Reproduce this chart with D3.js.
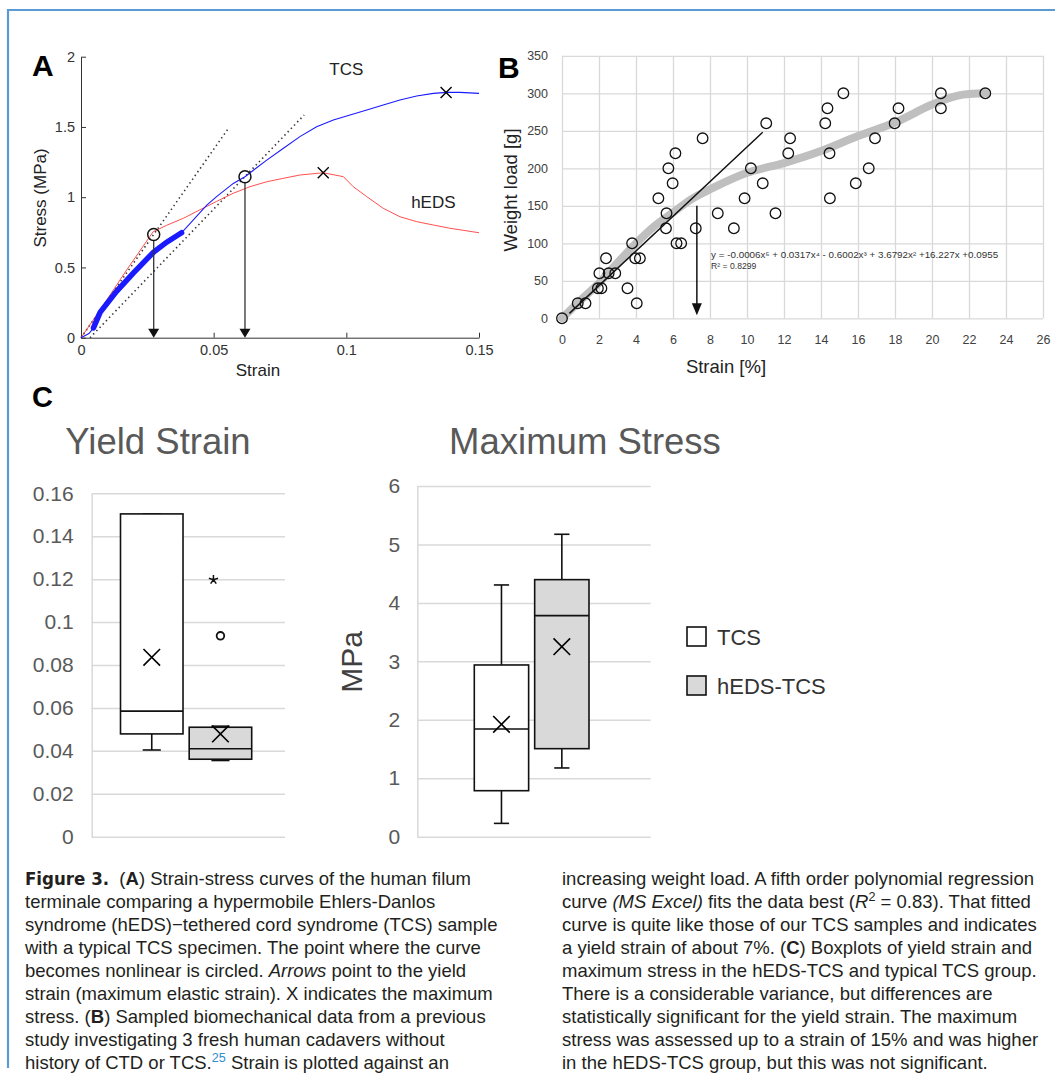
<!DOCTYPE html>
<html>
<head>
<meta charset="utf-8">
<script src="https://cdn.jsdelivr.net/npm/d3@7"></script>
<style>
  body { margin: 0; background: #fff; }
  svg { display: block; font-family: "Liberation Sans", Arial, sans-serif; }
</style>
</head>
<body>
<svg id="fig" width="1055" height="1076"></svg>
<script>
// ---- Panel A: strain-stress curves ----
const aXTicks = [0, 0.05, 0.1, 0.15];
const aYTicks = [0, 0.5, 1, 1.5, 2];
const tcsStrain = [0, 0.003, 0.0047, 0.0072, 0.0134, 0.0197, 0.0274, 0.0323, 0.0379, 0.0474, 0.0511, 0.0574, 0.0618, 0.070, 0.0763, 0.0825, 0.0888, 0.0951, 0.1014, 0.1077, 0.1139, 0.1202, 0.1265, 0.1328, 0.1378, 0.1428, 0.15];
const tcsStress = [0, 0.03, 0.07, 0.18, 0.33, 0.46, 0.61, 0.68, 0.747, 0.944, 1.004, 1.098, 1.146, 1.264, 1.348, 1.431, 1.502, 1.549, 1.585, 1.62, 1.656, 1.692, 1.72, 1.739, 1.746, 1.746, 1.739];
const hedsStrain = [0, 0.0072, 0.0172, 0.0272, 0.0323, 0.0386, 0.0448, 0.0511, 0.0574, 0.0637, 0.070, 0.0762, 0.0825, 0.0913, 0.0989, 0.1026, 0.1077, 0.1139, 0.1202, 0.1265, 0.1328, 0.139, 0.15];
const hedsStress = [0, 0.197, 0.482, 0.754, 0.80, 0.85, 0.91, 0.97, 1.028, 1.075, 1.11, 1.134, 1.158, 1.174, 1.146, 1.075, 1.004, 0.921, 0.861, 0.826, 0.802, 0.779, 0.747];
const bandRange = [0.0047, 0.0379];          // dense part of TCS record
const yieldStrainA = [0.0274, 0.0618];        // circled points / arrows
const yieldStressA = [0.735, 1.146];
const maxStrainA = [0.1376, 0.0913];          // X markers
const maxStressA = [1.746, 1.174];
const tangentFrom = [[0, 0], [0.0034, 0]];
const tangentTo = [[0.0553, 1.483], [0.0841, 1.585]];

// ---- Panel B: sampled data ----
const bXTicks = d3.range(0, 27, 2);
const bYTicks = d3.range(0, 351, 50);
const bStrain = [0, 0.85, 1.27, 1.94, 2.13, 2.02, 2.52, 2.88, 2.38, 3.54, 3.79, 4.04, 3.96, 4.21, 5.21, 5.62, 5.65, 5.75, 5.98, 6.13, 6.19, 6.44, 7.23, 7.6, 8.42, 9.29, 9.87, 10.21, 10.85, 11.04, 11.54, 12.23, 12.33, 14.23, 14.35, 14.46, 14.48, 15.21, 15.88, 16.58, 16.92, 17.98, 18.19, 20.48, 20.48, 22.88];
const bLoad = [0, 20, 20, 40, 40, 60, 60, 60, 80, 40, 100, 20, 80, 80, 160, 120, 140, 200, 180, 220, 100, 100, 120, 240, 140, 120, 160, 200, 180, 260, 140, 220, 240, 260, 280, 220, 160, 300, 180, 200, 240, 260, 280, 300, 280, 300];
const fitStrain = [0, 1, 2, 3, 4, 5, 6, 7, 8, 10, 12, 14, 16, 18, 20, 21.4, 22.9];
const fitLoad = [0, 24, 47, 74, 100, 123, 141, 159, 172, 194, 207, 223, 243, 261, 285, 297, 300];
const linStrain = [0.4, 10.85];
const linLoad = [6.6, 248];
const arrowStrainB = 7.29;
const arrowLoadB = [150, 4];
const fitEquation = "y = -0.0006x\u2075 + 0.0317x\u2074 - 0.6002x\u00b3 + 3.6792x\u00b2 +16.227x +0.0955";
const fitR2 = "R\u00b2 = 0.8299";

// ---- Panel C: boxplots ----
const groups = ["TCS", "hEDS-TCS"];
const groupFill = ["#ffffff", "#d9d9d9"];
const yieldMin = [0.0404, 0.0355];
const yieldQ1 = [0.0479, 0.0361];
const yieldMedian = [0.0585, 0.041];
const yieldQ3 = [0.1504, 0.051];
const yieldMax = [0.1504, 0.0515];
const yieldMean = [0.0836, 0.0479];
const yieldOutliers = [[], [{v: 0.1197, kind: "star"}, {v: 0.0936, kind: "circle"}]];
const yieldTicks = d3.range(0, 0.161, 0.02);
const stressMin = [0.228, 1.176];
const stressQ1 = [0.787, 1.506];
const stressMedian = [1.843, 3.782];
const stressQ3 = [2.938, 4.398];
const stressMax = [4.307, 5.174];
const stressMean = [1.923, 3.251];
const stressTicks = d3.range(0, 7, 1);

// ---- Caption ----
const captionLeft = [
  [["Figure 3.", "fig"], "\u00a0 (", ["A", "b"], ") Strain-stress curves of the human filum"],
  ["terminale comparing a hypermobile Ehlers-Danlos"],
  ["syndrome (hEDS)\u2212tethered cord syndrome (TCS) sample"],
  ["with a typical TCS specimen. The point where the curve"],
  ["becomes nonlinear is circled. ", ["Arrows", "i"], " point to the yield"],
  ["strain (maximum elastic strain). X indicates the maximum"],
  ["stress. (", ["B", "b"], ") Sampled biomechanical data from a previous"],
  ["study investigating 3 fresh human cadavers without"],
  ["history of CTD or TCS.", ["25", "ref"], " Strain is plotted against an"]
];
const captionRight = [
  ["increasing weight load. A fifth order polynomial regression"],
  ["curve ", ["(MS Excel)", "i"], " fits the data best (", ["R", "i"], ["2", "sup"], " = 0.83). That fitted"],
  ["curve is quite like those of our TCS samples and indicates"],
  ["a yield strain of about 7%. (", ["C", "b"], ") Boxplots of yield strain and"],
  ["maximum stress in the hEDS-TCS and typical TCS group."],
  ["There is a considerable variance, but differences are"],
  ["statistically significant for the yield strain. The maximum"],
  ["stress was assessed up to a strain of 15% and was higher"],
  ["in the hEDS-TCS group, but this was not significant."]
];

const svg = d3.select("#fig");
svg.append("rect").attr("width", 1055).attr("height", 1076).attr("fill", "#fff");

// page frame (blue rule top + left)
svg.append("path").attr("d", "M8,1068V10H1055").attr("fill", "none")
  .attr("stroke", "#5b9bd5").attr("stroke-width", 2.2);

function styleAxis(g, size, color) {
  g.attr("font-family", null).attr("font-size", size);
  g.selectAll("text").attr("fill", color);
  g.selectAll("line,path").attr("stroke", color);
}
function xMark(g, cx, cy, h, w) {
  g.append("path").attr("d", `M${cx - h},${cy - h}L${cx + h},${cy + h}M${cx - h},${cy + h}L${cx + h},${cy - h}`)
    .attr("stroke", "#000").attr("stroke-width", w).attr("fill", "none");
}

// ================= Panel A =================
const xA = d3.scaleLinear().domain([0, 0.15]).range([81, 479]);
const yA = d3.scaleLinear().domain([0, 2]).range([337.7, 56.7]);
const gA = svg.append("g");

gA.append("g").attr("transform", `translate(0,${yA(0)})`)
  .call(d3.axisBottom(xA).tickValues(aXTicks).tickSize(-5).tickSizeOuter(0).tickPadding(7).tickFormat(d => String(d)))
  .call(g => styleAxis(g, 14.5, "#333"));
gA.append("g").attr("transform", `translate(${xA(0)},0)`)
  .call(d3.axisLeft(yA).tickValues(aYTicks).tickSize(-5).tickSizeOuter(0).tickPadding(6).tickFormat(d => String(d)))
  .call(g => styleAxis(g, 14.5, "#333"));

// tangents
tangentFrom.forEach((p, i) => {
  gA.append("line")
    .attr("x1", xA(p[0])).attr("y1", yA(p[1]))
    .attr("x2", xA(tangentTo[i][0])).attr("y2", yA(tangentTo[i][1]))
    .attr("stroke", "#333").attr("stroke-width", 1.6).attr("stroke-dasharray", "1.4,3.2");
});

const lineA = d3.line().x(d => xA(d[0])).y(d => yA(d[1]));
const tcsPts = tcsStrain.map((s, i) => [s, tcsStress[i]]);
const hedsPts = hedsStrain.map((s, i) => [s, hedsStress[i]]);
gA.append("path").attr("d", lineA(hedsPts)).attr("fill", "none").attr("stroke", "#ff3b3b").attr("stroke-width", 0.9);
gA.append("path").attr("d", lineA(tcsPts)).attr("fill", "none").attr("stroke", "#1a1aff").attr("stroke-width", 1.1);
gA.append("path").attr("d", lineA(tcsPts.filter(d => d[0] >= bandRange[0] && d[0] <= bandRange[1])))
  .attr("fill", "none").attr("stroke", "#1a1aff").attr("stroke-width", 5.5).attr("stroke-linecap", "round");

// arrows + circles
yieldStrainA.forEach((s, i) => {
  const x = xA(s), yTop = yA(yieldStressA[i]) + 6, yBot = yA(0);
  gA.append("line").attr("x1", x).attr("x2", x).attr("y1", yTop).attr("y2", yBot - 8)
    .attr("stroke", "#333").attr("stroke-width", 1.3);
  gA.append("path").attr("d", `M${x - 5.5},${yBot - 9}L${x + 5.5},${yBot - 9}L${x},${yBot}Z`).attr("fill", "#111");
  gA.append("circle").attr("cx", x).attr("cy", yA(yieldStressA[i])).attr("r", 6)
    .attr("fill", "none").attr("stroke", "#111").attr("stroke-width", 1.5);
});
maxStrainA.forEach((s, i) => xMark(gA, xA(s), yA(maxStressA[i]), 5.5, 1.4));

gA.append("text").attr("x", xA(0.1)).attr("y", yA(1.87)).attr("text-anchor", "middle")
  .attr("font-size", 17).attr("fill", "#222").text("TCS");
gA.append("text").attr("x", xA(0.1328)).attr("y", yA(0.92)).attr("text-anchor", "middle")
  .attr("font-size", 17).attr("fill", "#222").text("hEDS");
gA.append("text").attr("x", 258).attr("y", 376).attr("text-anchor", "middle")
  .attr("font-size", 17).attr("fill", "#222").text("Strain");
gA.append("text").attr("transform", "translate(46,198) rotate(-90)").attr("text-anchor", "middle")
  .attr("font-size", 17).attr("fill", "#222").text("Stress (MPa)");
svg.append("text").attr("x", 32).attr("y", 76).attr("font-size", 30).attr("font-weight", "bold").text("A");

// ================= Panel B =================
const xB = d3.scaleLinear().domain([0, 26]).range([562, 1043]);
const yB = d3.scaleLinear().domain([0, 350]).range([318.3, 55.8]);
const gB = svg.append("g");

gB.append("g").attr("transform", `translate(0,${yB(0)})`)
  .call(d3.axisBottom(xB).tickValues(bXTicks).tickSize(-(yB(0) - yB(350))).tickSizeOuter(0).tickFormat(""))
  .call(g => { g.select(".domain").remove(); g.selectAll("line").attr("stroke", "#d9d9d9").attr("stroke-width", 1.3); });
gB.append("g").attr("transform", `translate(${xB(0)},0)`)
  .call(d3.axisLeft(yB).tickValues(bYTicks).tickSize(-(xB(26) - xB(0))).tickSizeOuter(0).tickFormat(""))
  .call(g => { g.select(".domain").remove(); g.selectAll("line").attr("stroke", "#d9d9d9").attr("stroke-width", 1.3); });

gB.append("g").attr("transform", `translate(0,${yB(0)})`)
  .call(d3.axisBottom(xB).tickValues(bXTicks).tickSize(0).tickPadding(17))
  .call(g => { g.select(".domain").remove(); styleAxis(g, 12.5, "#404040"); });
gB.append("g").attr("transform", `translate(${xB(0)},0)`)
  .call(d3.axisLeft(yB).tickValues(bYTicks).tickSize(0).tickPadding(14))
  .call(g => { g.select(".domain").remove(); styleAxis(g, 12.5, "#404040"); });

const lineB = d3.line().x(d => xB(d[0])).y(d => yB(d[1]));
gB.append("path").attr("d", lineB.curve(d3.curveCatmullRom)(fitStrain.map((s, i) => [s, fitLoad[i]])))
  .attr("fill", "none").attr("stroke", "#bfbfbf").attr("stroke-width", 8).attr("stroke-linecap", "round");
gB.append("path").attr("d", d3.line().x(d => xB(d[0])).y(d => yB(d[1]))(linStrain.map((s, i) => [s, linLoad[i]])))
  .attr("stroke", "#111").attr("stroke-width", 1.5);
{
  const x = xB(arrowStrainB), y1 = yB(arrowLoadB[0]), y2 = yB(arrowLoadB[1]);
  gB.append("line").attr("x1", x).attr("x2", x).attr("y1", y1).attr("y2", y2 - 10)
    .attr("stroke", "#111").attr("stroke-width", 1.5);
  gB.append("path").attr("d", `M${x - 5},${y2 - 12}L${x + 5},${y2 - 12}L${x},${y2}Z`).attr("fill", "#111");
}
gB.selectAll(".pt").data(bStrain).join("circle")
  .attr("cx", d => xB(d)).attr("cy", (d, i) => yB(bLoad[i])).attr("r", 5.3)
  .attr("fill", "none").attr("stroke", "#111").attr("stroke-width", 1.3);

gB.append("text").attr("x", xB(8.06)).attr("y", 257.5).attr("font-size", 8.6).attr("fill", "#333")
  .attr("textLength", 287).attr("lengthAdjust", "spacingAndGlyphs").text(fitEquation);
gB.append("text").attr("x", xB(8.06)).attr("y", 269).attr("font-size", 8.6).attr("fill", "#333").text(fitR2);

gB.append("text").attr("x", 726).attr("y", 373).attr("text-anchor", "middle")
  .attr("font-size", 18.5).attr("fill", "#222").text("Strain [%]");
gB.append("text").attr("transform", "translate(517,190) rotate(-90)").attr("text-anchor", "middle")
  .attr("font-size", 18.5).attr("fill", "#222").text("Weight load [g]");
svg.append("text").attr("x", 498).attr("y", 78).attr("font-size", 30).attr("font-weight", "bold").text("B");

// ================= Panel C =================
svg.append("text").attr("x", 32).attr("y", 407).attr("font-size", 29).attr("font-weight", "bold").text("C");

function boxPanel(opts) {
  const g = svg.append("g");
  const y = d3.scaleLinear().domain(opts.domain).range([836.7, opts.top]);
  const x = d3.scaleBand().domain(groups).range(opts.boxRange).paddingInner(opts.pad).paddingOuter(0);
  g.append("g").attr("transform", `translate(${opts.left},0)`)
    .call(d3.axisLeft(y).tickValues(opts.ticks).tickSize(-(opts.right - opts.left)).tickSizeOuter(0)
      .tickPadding(opts.labelPad).tickFormat(opts.fmt))
    .call(a => {
      a.attr("font-family", null).attr("font-size", 21);
      a.selectAll("line").attr("stroke", "#d9d9d9").attr("stroke-width", 1.5);
      a.select(".domain").attr("stroke", "#d9d9d9").attr("stroke-width", 1.5);
      a.selectAll("text").attr("fill", "#595959");
    });
  const bw = x.bandwidth(), cap = bw * opts.capFrac;
  groups.forEach((grp, i) => {
    const x0 = x(grp), cx = x0 + bw / 2;
    const s = opts.stats;
    g.append("line").attr("x1", cx).attr("x2", cx).attr("y1", y(s.q3[i])).attr("y2", y(s.max[i])).attr("stroke", "#111").attr("stroke-width", 1.6);
    g.append("line").attr("x1", cx).attr("x2", cx).attr("y1", y(s.q1[i])).attr("y2", y(s.min[i])).attr("stroke", "#111").attr("stroke-width", 1.6);
    g.append("line").attr("x1", cx - cap / 2).attr("x2", cx + cap / 2).attr("y1", y(s.max[i])).attr("y2", y(s.max[i])).attr("stroke", "#111").attr("stroke-width", 1.6);
    g.append("line").attr("x1", cx - cap / 2).attr("x2", cx + cap / 2).attr("y1", y(s.min[i])).attr("y2", y(s.min[i])).attr("stroke", "#111").attr("stroke-width", 1.6);
    g.append("rect").attr("x", x0).attr("width", bw).attr("y", y(s.q3[i])).attr("height", y(s.q1[i]) - y(s.q3[i]))
      .attr("fill", groupFill[i]).attr("stroke", "#111").attr("stroke-width", 1.6);
    g.append("line").attr("x1", x0).attr("x2", x0 + bw).attr("y1", y(s.median[i])).attr("y2", y(s.median[i])).attr("stroke", "#111").attr("stroke-width", 1.6);
    xMark(g, cx, y(s.mean[i]), 8.3, 1.6);
    (s.outliers ? s.outliers[i] : []).forEach(o => {
      const oy = y(o.v);
      if (o.kind === "circle") {
        g.append("circle").attr("cx", cx).attr("cy", oy).attr("r", 3.8).attr("fill", "none").attr("stroke", "#111").attr("stroke-width", 1.8);
      } else {
        const ox = cx - 7, r = 4.8;
        const arms = d3.range(5).map(k => {
          const a = -Math.PI / 2 + k * 2 * Math.PI / 5;
          return `M${ox},${oy}L${ox + r * Math.cos(a)},${oy + r * Math.sin(a)}`;
        }).join("");
        g.append("path").attr("d", arms).attr("stroke", "#111").attr("stroke-width", 1.5);
      }
    });
  });
  g.append("text").attr("x", opts.titleX).attr("y", 454).attr("text-anchor", "middle")
    .attr("font-size", 36.5).attr("fill", "#595959").text(opts.title);
  return g;
}

boxPanel({
  title: "Yield Strain", titleX: 158, domain: [0, 0.16], top: 493.3, ticks: yieldTicks,
  left: 91.7, right: 285, boxRange: [120.5, 251.7], pad: 0.09, capFrac: 0.29, labelPad: 18,
  fmt: d => d === 0 ? "0" : String(+d.toFixed(2)),
  stats: {min: yieldMin, q1: yieldQ1, median: yieldMedian, q3: yieldQ3, max: yieldMax, mean: yieldMean, outliers: yieldOutliers}
});
const gS = boxPanel({
  title: "Maximum Stress", titleX: 585, domain: [0, 6], top: 486, ticks: stressTicks,
  left: 417.3, right: 650.7, boxRange: [474.3, 589], pad: 0.1, capFrac: 0.28, labelPad: 17,
  fmt: d => String(d),
  stats: {min: stressMin, q1: stressQ1, median: stressMedian, q3: stressQ3, max: stressMax, mean: stressMean}
});
gS.append("text").attr("transform", "translate(362,662) rotate(-90)").attr("text-anchor", "middle")
  .attr("font-size", 30).attr("fill", "#404040").text("MPa");

// legend
const leg = svg.append("g").attr("transform", "translate(687,627)");
groups.forEach((grp, i) => {
  const row = leg.append("g").attr("transform", `translate(0,${i * 49})`);
  row.append("rect").attr("width", 19).attr("height", 19).attr("fill", groupFill[i]).attr("stroke", "#111").attr("stroke-width", 1.6);
  row.append("text").attr("x", 30).attr("y", 10).attr("dy", "0.36em").attr("font-size", 22).attr("fill", "#333").text(grp);
});

// ================= Caption =================
const CAP_FS = 18.5, CAP_LH = 23;
function drawCaption(lines, x, y0) {
  lines.forEach((segs, li) => {
    const t = svg.append("text").attr("x", x).attr("y", y0 + li * CAP_LH)
      .attr("font-size", CAP_FS).attr("fill", "#231f20");
    let raised = false;
    segs.forEach(seg => {
      const [str, st] = typeof seg === "string" ? [seg, ""] : seg;
      const ts = t.append("tspan").text(str);
      if (st === "b") ts.attr("font-weight", "bold");
      if (st === "i") ts.attr("font-style", "italic");
      if (st === "fig") ts.attr("font-weight", "bold")
        .attr("font-family", '"Liberation Sans Narrow", "DejaVu Sans Condensed", sans-serif');
      if (st === "sup" || st === "ref") {
        ts.attr("dy", -7).attr("font-size", CAP_FS * 0.68);
        if (st === "ref") ts.attr("fill", "#2e8ece");
        raised = true;
      } else if (raised) {
        ts.attr("dy", 7);
        raised = false;
      }
    });
  });
}
drawCaption(captionLeft, 25, 885);
drawCaption(captionRight, 562, 885);
</script>
</body>
</html>
